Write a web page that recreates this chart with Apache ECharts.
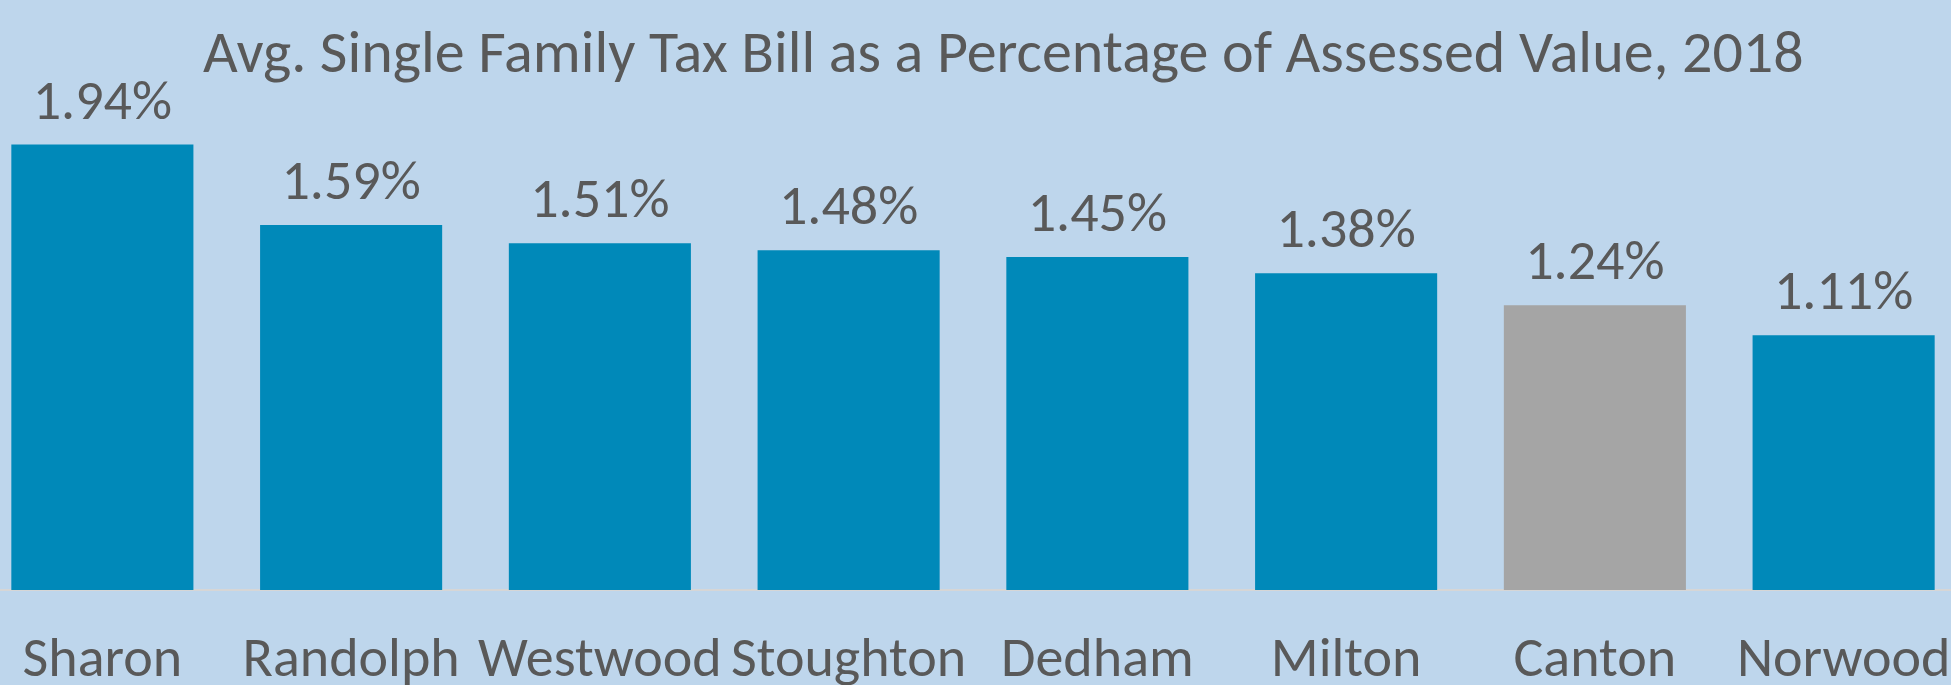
<!DOCTYPE html>
<html>
<head>
<meta charset="utf-8">
<script src="https://cdn.jsdelivr.net/npm/echarts@6/dist/echarts.min.js"></script>
<style>
html,body{margin:0;padding:0;background:#BED6EC;}
#c{width:1951px;height:685px;}
</style>
</head>
<body>
<div id="c"></div>
<script>
const titleText = 'Avg. Single Family Tax Bill as a Percentage of Assessed Value, 2018';
const categories = ['Sharon', 'Randolph', 'Westwood', 'Stoughton', 'Dedham', 'Milton', 'Canton', 'Norwood'];
const values = [1.94, 1.59, 1.51, 1.48, 1.45, 1.38, 1.24, 1.11];
const highlighted = ['Canton'];

const FONT = 'Carlito, Calibri, Lato, sans-serif';
const BLUE = '#0089B9';
const GRAY = '#A5A5A5';
const TEXT = '#595959';

const chart = echarts.init(document.getElementById('c'));
chart.setOption({
  backgroundColor: '#BED6EC',
  animation: false,
  title: {
    text: titleText,
    left: 198,
    top: 22,
    textStyle: { fontFamily: FONT, fontSize: 60, fontWeight: 'normal', color: TEXT }
  },
  grid: {
    left: -22, right: -17, top: 16, bottom: 95,
    containLabel: false,
    outerBoundsMode: 'none'
  },
  xAxis: {
    type: 'category',
    data: categories,
    axisLine: { show: true, lineStyle: { color: '#D6D6D6', width: 2 } },
    axisTick: { show: false },
    axisLabel: { margin: 44, fontFamily: FONT, fontSize: 56, color: TEXT, interval: 0 }
  },
  yAxis: {
    type: 'value', min: 0, max: 2.5, show: false,
    splitLine: { show: false }
  },
  series: [{
    type: 'bar',
    barCategoryGap: '26.8%',
    data: values.map((v, i) => ({
      value: v,
      itemStyle: { color: highlighted.includes(categories[i]) ? GRAY : BLUE }
    })),
    label: {
      show: true, position: 'top', distance: 12,
      fontFamily: FONT, fontSize: 56, color: TEXT,
      formatter: p => p.value.toFixed(2) + '%'
    }
  }]
});
</script>
</body>
</html>
